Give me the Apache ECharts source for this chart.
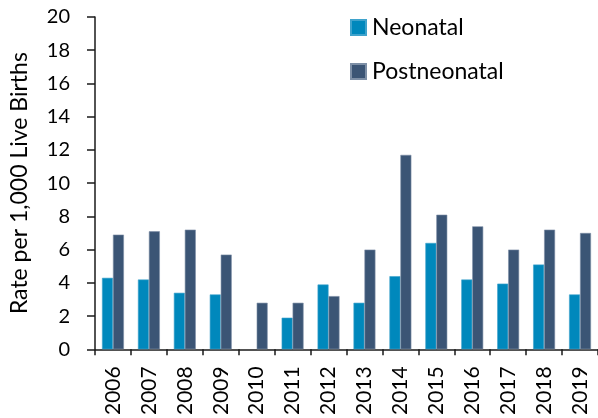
<!DOCTYPE html>
<html>
<head>
<meta charset="utf-8">
<script src="https://cdn.jsdelivr.net/npm/echarts@6/dist/echarts.min.js"></script>
<style>
  html, body { margin: 0; padding: 0; background: #ffffff; }
  #chart { width: 598px; height: 418px; }
</style>
</head>
<body>
<div id="chart"></div>
<script>
var years = ["2006", "2007", "2008", "2009", "2010", "2011", "2012",
             "2013", "2014", "2015", "2016", "2017", "2018", "2019"];
// 2010 has no neonatal bar in the source chart
var neonatal = [4.3, 4.2, 3.4, 3.3, null, 1.9, 3.9, 2.8, 4.4, 6.4, 4.2, 3.95, 5.1, 3.3];
var postneonatal = [6.9, 7.1, 7.2, 5.7, 2.8, 2.8, 3.2, 6.0, 11.7, 8.1, 7.4, 6.0, 7.2, 7.0];
var yTicks = [0, 2, 4, 6, 8, 10, 12, 14, 16, 18, 20];

var FONT = "Lato";
var chart = echarts.init(document.getElementById("chart"), null, { renderer: "canvas" });

var option = {
  backgroundColor: "#ffffff",
  animation: false,
  textStyle: { fontFamily: FONT, color: "#000000" },
  legend: {
    orient: "vertical",
    left: 350,
    top: 16,
    padding: 0,
    itemWidth: 15,
    itemHeight: 15,
    itemGap: 21,
    icon: "rect",
    textStyle: { fontFamily: FONT, fontSize: 23, color: "#000000", padding: [0, 0, 0, 1] },
    data: ["Neonatal", "Postneonatal"]
  },
  grid: {
    left: 91,
    right: 0,
    top: 17,
    bottom: 68.5,
    containLabel: false
  },
  xAxis: {
    type: "category",
    data: years,
    axisLine: { lineStyle: { color: "#1a1a1a", width: 1.5 } },
    axisTick: { show: true, length: 6, lineStyle: { color: "#1a1a1a", width: 1.5 } },
    axisLabel: {
      rotate: 90,
      interval: 0,
      margin: 17,
      fontFamily: FONT,
      fontSize: 21,
      color: "#000000"
    },
    splitLine: { show: false }
  },
  yAxis: {
    type: "value",
    min: 0,
    max: 20,
    interval: 2,
    name: "Rate per 1,000 Live Births",
    nameLocation: "middle",
    nameGap: 64,
    nameTextStyle: { fontFamily: FONT, fontSize: 23, color: "#000000" },
    axisLine: { show: true, lineStyle: { color: "#1a1a1a", width: 1.5 } },
    axisTick: { show: true, length: 8, lineStyle: { color: "#1a1a1a", width: 1.5 } },
    axisLabel: {
      margin: 25,
      fontFamily: FONT,
      fontSize: 20,
      color: "#000000",
      formatter: function (v) { return yTicks.indexOf(v) >= 0 ? String(v) : ""; }
    },
    splitLine: { show: false }
  },
  series: [
    {
      name: "Neonatal",
      type: "bar",
      data: neonatal,
      barGap: "0%",
      barCategoryGap: "39%",
      itemStyle: { color: "#0088BC", borderColor: "#3FA3CC", borderWidth: 0.6 }
    },
    {
      name: "Postneonatal",
      type: "bar",
      data: postneonatal,
      itemStyle: { color: "#3B5575", borderColor: "#7D8FA6", borderWidth: 0.6 }
    }
  ]
};

chart.setOption(option);
</script>
</body>
</html>
